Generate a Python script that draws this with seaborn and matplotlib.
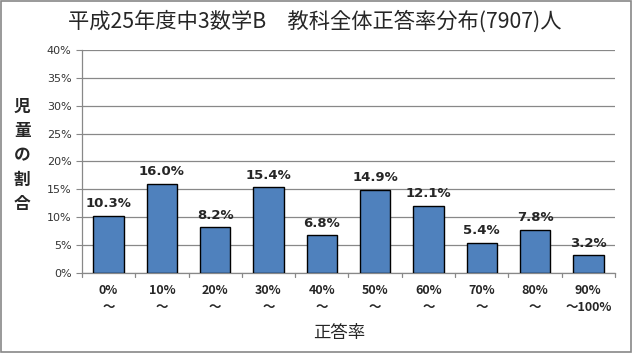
import matplotlib
matplotlib.use('Agg')
import matplotlib.pyplot as plt
import seaborn as sns
import pandas as pd
from matplotlib.patches import Rectangle

categories = ['0%\n～', '10%\n～', '20%\n～', '30%\n～', '40%\n～',
              '50%\n～', '60%\n～', '70%\n～', '80%\n～', '90%\n～100%']
rates = [10.3, 16.0, 8.2, 15.4, 6.8, 14.9, 12.1, 5.4, 7.8, 3.2]
yticks = [0, 5, 10, 15, 20, 25, 30, 35, 40]

sns.set_style('white')
plt.rcParams['font.family'] = ['Noto Sans CJK JP', 'DejaVu Sans']

df = pd.DataFrame({'cat': categories, 'rate': rates})

fig = plt.figure(figsize=(6.33, 3.53), dpi=100)
ax = fig.add_axes([0.1295, 0.2266, 0.842, 0.632])

sns.barplot(data=df, x='cat', y='rate', color='#4F81BD', saturation=1,
            edgecolor='black', linewidth=1.0, width=0.57, ax=ax, zorder=3)

ax.set_ylim(0, 40)
ax.set_xlim(-0.5, len(categories) - 0.5)
ax.set_yticks(yticks)
ax.set_yticklabels([f'{v}%' for v in yticks], fontsize=8, color='#333333',
                   family=['DejaVu Sans'])
ax.yaxis.grid(True, color='#888888', linewidth=0.9, zorder=0)
ax.set_axisbelow(True)

ax.set_xticks(range(len(categories)))
ax.set_xticklabels(categories, fontsize=9, fontweight='bold', linespacing=1.35)
ax.tick_params(axis='x', length=0, pad=8)
ax.tick_params(axis='y', length=4, direction='out', left=True, color='#888888')

# category boundary ticks
for i in range(len(categories) + 1):
    ax.plot([i - 0.5, i - 0.5], [0, -0.7], color='#888888', lw=0.9,
            clip_on=False, zorder=4)

for s in ['top', 'right']:
    ax.spines[s].set_visible(False)
for s in ['left', 'bottom']:
    ax.spines[s].set_color('#888888')
    ax.spines[s].set_linewidth(0.9)

for i, v in enumerate(rates):
    ax.text(i, v + 1.0, f'{v:.1f}%', ha='center', va='bottom',
            fontsize=9.5, fontweight='semibold', family=['DejaVu Sans'])

ax.set_xlabel('')
ax.set_ylabel('')
fig.text(0.497, 0.938, '平成25年度中3数学B\u3000教科全体正答率分布(7907)人',
         ha='center', va='center', fontsize=15.3)
fig.text(0.536, 0.058, '正答率', ha='center', va='center', fontsize=12.5)
fig.text(0.035, 0.56, '児\n童\nの\n割\n合', ha='center', va='center',
         fontsize=12, fontweight='bold', linespacing=1.45)

fig.patches.append(Rectangle((0.002, 0.003), 0.995, 0.993, transform=fig.transFigure,
                             fill=False, edgecolor='#888888', linewidth=1.2))

fig.savefig('out.png', dpi=100)
